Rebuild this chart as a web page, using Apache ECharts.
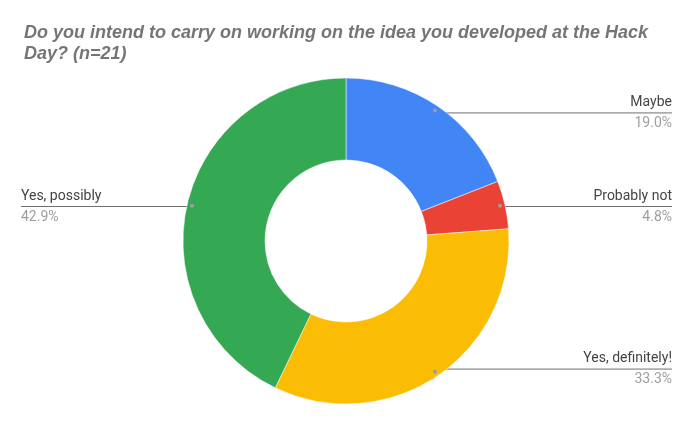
<!DOCTYPE html>
<html>
<head>
<meta charset="utf-8">
<script src="https://cdn.jsdelivr.net/npm/echarts@6/dist/echarts.min.js"></script>
<style>
    html, body { margin: 0; padding: 0; background: #fff; }
    #chart { width: 693px; height: 426px; }
</style>
</head>
<body>
<div id="chart"></div>
<script type="text/javascript">
    // answers, in clockwise order starting at 12 o'clock
    let names = ['Maybe', 'Probably not', 'Yes, definitely!', 'Yes, possibly'];
    let counts = [4, 1, 7, 9];
    let colors = ['#4285F4', '#EA4335', '#FBBC04', '#34A853'];

    let total = counts.reduce(function (a, b) { return a + b; }, 0);
    let pieData = names.map(function (n, i) {
        return {name: n, value: counts[i], itemStyle: {color: colors[i]}};
    });
    let ghostData = names.map(function (n, i) {
        return {name: n, value: counts[i]};
    });

    let myChart = echarts.init(document.getElementById('chart'));
    let option = {
        animation: false,
        title: {
            text: 'Do you intend to carry on working on the idea you developed at the Hack\nDay? (n=21)',
            left: 19,
            top: 18,
            textStyle: {
                fontFamily: "'Liberation Sans', Arial, sans-serif",
                fontSize: 18,
                fontWeight: 'bold',
                fontStyle: 'italic',
                color: '#757575',
                lineHeight: 21
            }
        },
        series: [
            {
                // the donut itself
                type: 'pie',
                center: [346, 241],
                radius: [81, 163],
                silent: true,
                label: {show: false},
                labelLine: {show: false},
                itemStyle: {borderColor: '#ffffff', borderWidth: 0.5},
                data: pieData
            },
            {
                // transparent copy, used only to place the labels and their lines
                type: 'pie',
                center: [346, 241],
                radius: [0, 155],
                silent: true,
                itemStyle: {color: 'rgba(0,0,0,0)'},
                label: {
                    show: true,
                    position: 'outside',
                    alignTo: 'edge',
                    edgeDistance: 21,
                    formatter: function (p) {
                        return '{n|' + p.name + '}\n{p|' + (p.value * 100 / total).toFixed(1) + '%}';
                    },
                    rich: {
                        n: {fontFamily: 'Roboto', fontSize: 14, color: '#444444', lineHeight: 21},
                        p: {fontFamily: 'Roboto', fontSize: 14, color: '#9e9e9e', lineHeight: 21}
                    }
                },
                labelLine: {
                    show: true,
                    length: 0,
                    length2: 10,
                    lineStyle: {color: '#707070', width: 1}
                },
                labelLayout: function (params) {
                    let pts = params.labelLinePoints;
                    if (!pts) {
                        return {};
                    }
                    let r = params.labelRect;
                    let right = pts[2][0] >= pts[0][0];
                    let end = right ? r.x + r.width : r.x;
                    return {
                        labelLinePoints: [
                            [pts[0][0], pts[0][1]],
                            [pts[1][0], pts[1][1]],
                            [end, pts[2][1]]
                        ]
                    };
                },
                data: ghostData
            },
            {
                // small grey dots where each label line starts
                type: 'pie',
                center: [346, 241],
                radius: [151, 159],
                silent: true,
                itemStyle: {color: 'rgba(0,0,0,0)'},
                label: {
                    show: true,
                    position: 'inside',
                    rotate: 0,
                    formatter: '{d|}',
                    rich: {
                        d: {width: 4, height: 4, borderRadius: 2, backgroundColor: '#9e9e9e'}
                    }
                },
                labelLine: {show: false},
                data: ghostData
            }
        ]
    };
    myChart.setOption(option);
</script>
</body>
</html>
